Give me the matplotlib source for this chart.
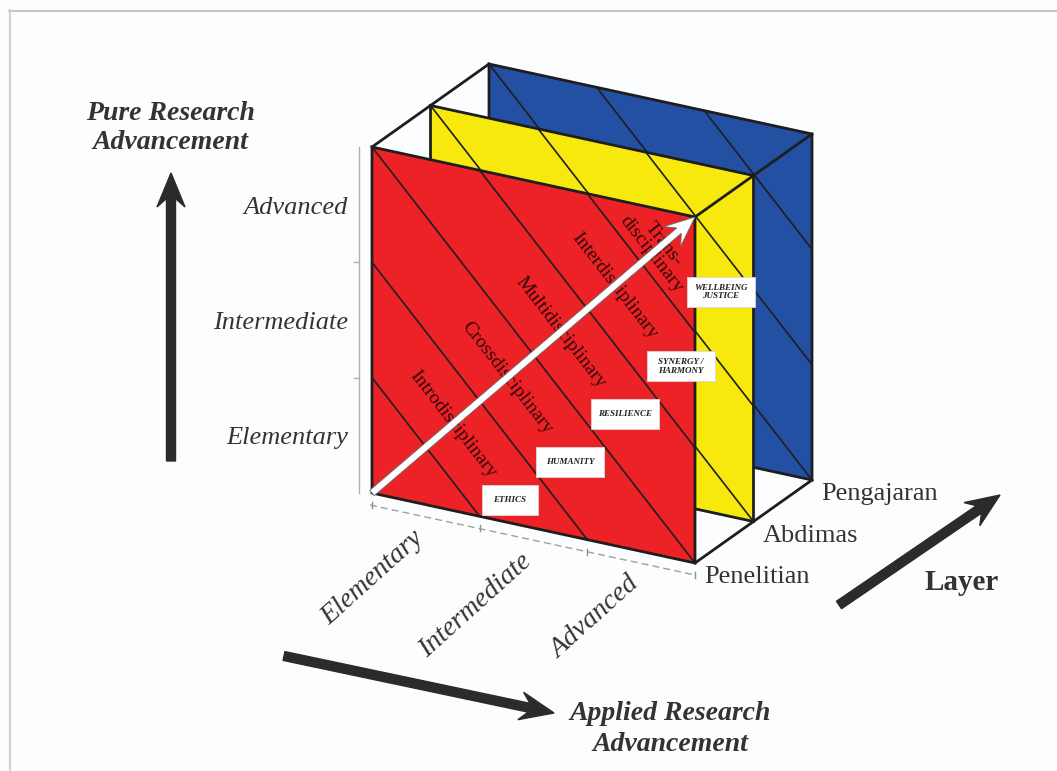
import numpy as np
import matplotlib.pyplot as plt
from matplotlib.patches import Polygon, FancyArrow, Rectangle

# Categories / labels
levels = ['Elementary', 'Intermediate', 'Advanced']
layers = ['Penelitian', 'Abdimas', 'Pengajaran']
layer_colors = ['#ec2227', '#f7e90e', '#2350a3']
disciplines = ['Introdisciplinary', 'Crossdisciplinary', 'Multidisciplinary',
               'Interdisciplinary', 'Trans-\ndisciplinary']
disc_pos = [1.5, 2.5, 3.5, 4.5, 5.3]          # u+v along the diagonal
values = ['ETHICS', 'HUMANITY', 'RESILIENCE', 'SYNERGY /\nHARMONY', 'WELLBEING\nJUSTICE']
value_u = [1.28, 1.84, 2.35, 2.87, 3.24]
value_v = [0.20, 0.64, 1.16, 1.68, 2.40]

# projection of the box: u (applied), v (pure), w (layer)
O = np.array([372.0, 493.0])
W = np.array([323.0, 70.0]) / 3
H = np.array([0.0, -346.0]) / 3
D = np.array([58.5, -41.5])


def P(u, v, w=0):
    return O + u * W + v * H + w * D


fig = plt.figure(figsize=(10.57, 7.71), dpi=100)
fig.patch.set_facecolor('#fcfdff')
ax = fig.add_axes([0, 0, 1, 1])
ax.set_xlim(0, 1057)
ax.set_ylim(771, 0)
ax.axis('off')

# light frame
ax.plot([9, 1057], [10.5, 10.5], color='#c8c8c8', lw=1.5)
ax.plot([9.5, 9.5], [10, 771], color='#d0d0d0', lw=1.5)

edge = '#1e1e1e'
serif = 'Liberation Serif'

# panels back to front
for w in [2, 1, 0]:
    z = 2 + (2 - w) * 2
    corners = [P(0, 0, w), P(3, 0, w), P(3, 3, w), P(0, 3, w)]
    ax.add_patch(Polygon(corners, closed=True, facecolor=layer_colors[w],
                         edgecolor=edge, lw=2, zorder=z))
    for k in range(1, 6):
        if k <= 3:
            a, b = P(0, k, w), P(k, 0, w)
        else:
            a, b = P(k - 3, 3, w), P(3, k - 3, w)
        ax.plot([a[0], b[0]], [a[1], b[1]], color=edge, lw=1.2, zorder=z + 0.5)

# box edges connecting the layers
for (u, v) in [(0, 3), (3, 3), (3, 0)]:
    a, b = P(u, v, 0), P(u, v, 2)
    ax.plot([a[0], b[0]], [a[1], b[1]], color=edge, lw=2, zorder=9)

# discipline labels on the front panel, running along the diagonal lines
d = W - H
ang = np.degrees(np.arctan2(-d[1], d[0]))
for name, s in zip(disciplines, disc_pos):
    x, y = P(s / 2, s / 2)
    ax.text(x, y, name, rotation=ang, rotation_mode='anchor', ha='center',
            va='center', fontsize=14, family=serif, color='#2e0606',
            linespacing=0.85, zorder=10)

# white diagonal arrow
a, b = P(0, 0), P(3, 3)
ax.add_patch(FancyArrow(a[0], a[1], b[0] - a[0], b[1] - a[1], width=7,
                        head_width=26, head_length=30, length_includes_head=True,
                        overhang=0.3, facecolor='white', edgecolor='#6a6a6a',
                        lw=0.6, zorder=11))

# value boxes
for name, u, v in zip(values, value_u, value_v):
    x, y = P(u, v)
    bw = 56 if name == 'ETHICS' else 68
    ax.add_patch(Rectangle((x - bw / 2, y - 15), bw, 30, facecolor='white',
                           edgecolor='#d8d8d8', lw=0.6, zorder=12))
    ax.text(x, y, name, ha='center', va='center', fontsize=6.5, family=serif,
            style='italic', weight='bold', color='#202020', linespacing=1.1,
            zorder=13)

# left (pure) axis
a, b = P(0, 0), P(0, 3)
ax.plot([a[0] - 13, b[0] - 13], [a[1], b[1]], color='#b0b0b0', lw=1)
for i in range(1, 3):
    x, y = P(0, i)
    ax.plot([x - 18, x - 13], [y, y], color='#b0b0b0', lw=1)
for i, name in enumerate(levels):
    x, y = P(0, i + 0.5)
    ax.text(348, y + 3, name, ha='right', va='center', fontsize=19,
            family=serif, style='italic', color='#333333')

# bottom (applied) axis
a, b = P(0, 0) + np.array([-2, 12]), P(3, 0) + np.array([0, 12])
ax.plot([a[0], b[0]], [a[1], b[1]], color='#a0a0a0', lw=1, ls=(0, (5, 3)))
for i in range(4):
    x, y = P(i, 0) + np.array([0, 12])
    ax.plot([x, x], [y - 3, y + 3], color='#909090', lw=1)
for i, name in enumerate(levels):
    x, y = P(i + 0.45, 0) + np.array([0, 31])
    ax.text(x, y, name, ha='right', va='center', rotation=42,
            rotation_mode='anchor', fontsize=20, family=serif,
            style='italic', color='#333333')

# layer labels
for w, name in enumerate(layers):
    x, y = P(3, 0, w) + np.array([9, 14])
    ax.text(x, y, name, ha='left', va='center', fontsize=19, family=serif,
            color='#333333')

arrow_col = '#2b2b2b'
# pure research arrow
ax.add_patch(FancyArrow(171, 461, 0, -288, width=9, head_width=28,
                        head_length=34, length_includes_head=True,
                        overhang=0.25, color=arrow_col))
ax.text(170, 128, 'Pure Research\nAdvancement', ha='center', va='center',
        fontsize=20, family=serif, style='italic', weight='bold',
        color='#333333', linespacing=1.25)

# applied research arrow
ax.add_patch(FancyArrow(284, 656, 270, 57, width=9, head_width=28,
                        head_length=34, length_includes_head=True,
                        overhang=0.25, color=arrow_col))
ax.text(670, 729, 'Applied Research\nAdvancement', ha='center', va='center',
        fontsize=20, family=serif, style='italic', weight='bold',
        color='#333333', linespacing=1.3)

# layer arrow
ax.add_patch(FancyArrow(839, 605, 161, -110, width=9, head_width=28,
                        head_length=34, length_includes_head=True,
                        overhang=0.25, color=arrow_col))
ax.text(962, 582, 'Layer', ha='center', va='center', fontsize=21,
        family=serif, weight='bold', color='#333333')

fig.savefig('out.png', dpi=100, facecolor=fig.get_facecolor())
